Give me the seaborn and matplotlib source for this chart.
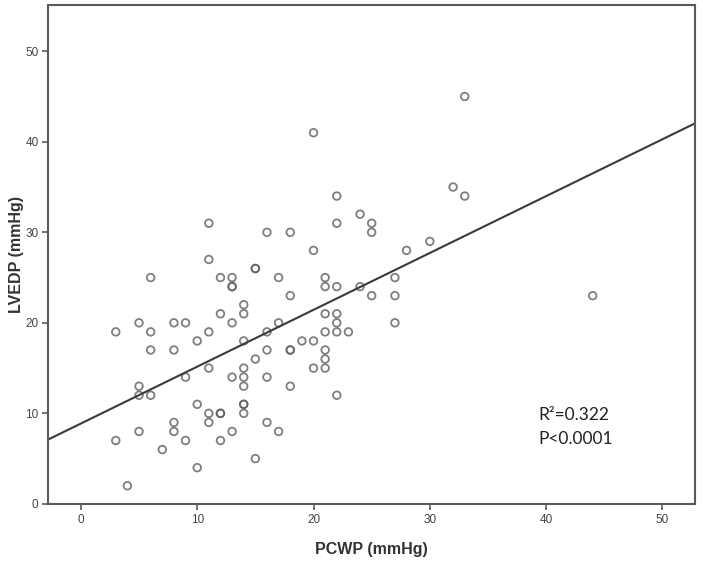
import matplotlib
matplotlib.use("Agg")
import matplotlib.pyplot as plt
import seaborn as sns
import pandas as pd

pcwp = [14, 12, 14, 3, 5, 6, 8, 9, 11, 13, 16, 17, 10, 14, 6, 8, 16, 15, 11, 14,
        13, 14, 16, 9, 5, 5, 6, 14, 10, 14, 11, 12, 14, 8, 11, 16, 5, 8, 13, 17,
        3, 9, 12, 7, 15, 10, 4,
        18, 25, 27, 21, 22, 22, 27, 21, 22, 23, 19, 20, 18, 21, 21, 20, 21, 18, 22,
        11, 16, 11, 15, 6, 12, 13, 13, 17,
        33, 20, 32, 33, 22, 24, 22, 25, 25, 18, 20, 28, 30, 21, 21, 22, 24, 27,
        44,
        15, 13, 18, 12, 14]
lvedp = [22, 21, 21, 19, 20, 19, 20, 20, 19, 20, 19, 20, 18, 18, 17, 17, 17, 16, 15, 15,
         14, 14, 14, 14, 13, 12, 12, 13, 11, 11, 10, 10, 10, 9, 9, 9, 8, 8, 8, 8,
         7, 7, 7, 6, 5, 4, 2,
         23, 23, 23, 21, 21, 20, 20, 19, 19, 19, 18, 18, 17, 17, 16, 15, 15, 13, 12,
         31, 30, 27, 26, 25, 25, 25, 24, 25,
         45, 41, 35, 34, 34, 32, 31, 31, 30, 30, 28, 28, 29, 25, 24, 24, 24, 25,
         23,
         26, 24, 17, 10, 11]

stats_lines = ["R\u00b2=0.322", "P<0.0001"]

df = pd.DataFrame({"PCWP": pcwp, "LVEDP": lvedp})

sns.set_style("white")
plt.rcParams["font.family"] = ["Liberation Sans", "DejaVu Sans"]

fig = plt.figure(figsize=(7.03, 5.63), dpi=100)
ax = fig.add_axes([0.0687, 0.105, 0.920, 0.886])
ax.set_xlim(-2.8, 52.8)
ax.set_ylim(0, 55.1)

sns.regplot(data=df, x="PCWP", y="LVEDP", ax=ax, ci=None, truncate=False,
            scatter_kws=dict(s=30, facecolors="none", edgecolors="#5f5f5f", linewidths=1.3),
            line_kws=dict(color="#3a3a3a", lw=1.5))

ax.set_xlim(-2.8, 52.8)
ax.set_ylim(0, 55.1)
ax.set_xticks([0, 10, 20, 30, 40, 50])
ax.set_yticks([0, 10, 20, 30, 40, 50])

for s in ax.spines.values():
    s.set_color("#5a5a5a")
    s.set_linewidth(1.5)
    s.set_visible(True)

ax.tick_params(axis="both", direction="out", length=4, width=1.2, color="#5a5a5a",
               labelsize=8.5, labelcolor="#444444", bottom=True, left=True, pad=3)

ax.set_xlabel("PCWP (mmHg)", fontsize=11.5, fontweight="bold", color="#333333", labelpad=12)
ax.set_ylabel("LVEDP (mmHg)", fontsize=11.5, fontweight="bold", color="#333333", labelpad=1)

ax.text(39.3, 9.3, stats_lines[0], fontsize=12.5, color="#222222", family=["Lato", "DejaVu Sans"], va="baseline")
ax.text(39.3, 6.6, stats_lines[1], fontsize=12.5, color="#222222", family=["Lato", "DejaVu Sans"], va="baseline")

fig.savefig("out.png", dpi=100)
